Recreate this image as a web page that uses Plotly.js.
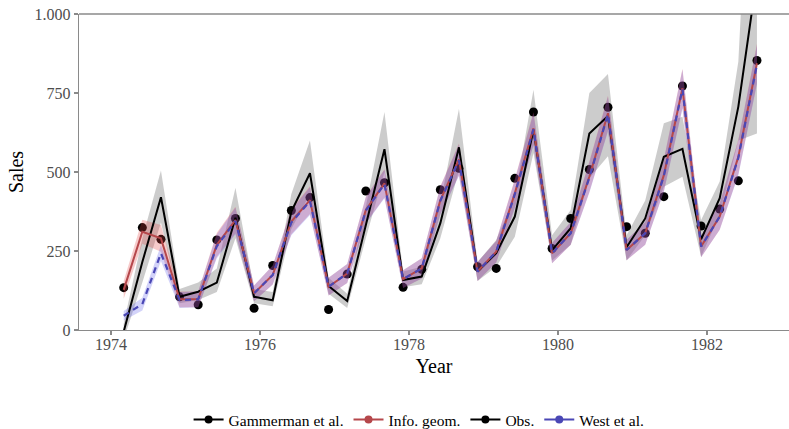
<!DOCTYPE html>
<html>
<head>
<meta charset="utf-8">
<script src="https://cdn.plot.ly/plotly-3.0.1.min.js"></script>
<style>html,body{margin:0;padding:0;background:#fff}#chart{width:789px;height:429px}</style>
</head>
<body>
<div id="chart"></div>
<script>
// Time (decimal years), quarterly
const years = [1974.17,1974.42,1974.67,1974.92,1975.17,1975.42,1975.67,1975.92,1976.17,1976.42,1976.67,1976.92,1977.17,1977.42,1977.67,1977.92,1978.17,1978.42,1978.67,1978.92,1979.17,1979.42,1979.67,1979.92,1980.17,1980.42,1980.67,1980.92,1981.17,1981.42,1981.67,1981.92,1982.17,1982.42,1982.67];

// Observed sales
const obs = [134,324,287,105,80,285,353,69,204,378,419,65,177,440,466,135,192,444,512,200,195,480,690,258,353,508,705,327,306,422,772,329,383,472,853];

// Gammerman et al. forecast and interval
const gammerman = [-5,215,420,105,121,150,355,105,94,375,496,139,92,335,572,158,169,338,578,185,243,359,633,253,322,622,677,262,353,548,573,287,417,707,1120];
const gammermanLo = [-30,150,340,85,95,120,290,85,75,320,430,115,70,290,500,135,145,290,505,155,200,295,560,220,270,480,550,220,300,453,485,232,365,600,622];
const gammermanHi = [20,290,505,130,150,195,450,130,120,430,600,165,115,390,690,185,200,400,700,215,285,422,760,300,380,750,810,300,410,654,675,348,470,850,2000];

// Information geometry forecast and half-width of interval
const infoGeom = [127,311,290,97,97,270,348,116,174,343,411,137,179,380,464,161,195,411,540,185,248,433,638,243,306,485,686,253,306,490,765,264,359,548,844];
const infoGeomErr = [28,38,42,25,25,38,42,25,30,40,44,28,30,42,45,28,32,44,50,30,34,45,52,32,36,48,55,32,36,50,62,34,42,55,62];

// West et al. forecast and half-width of interval
const west = [45,82,243,95,97,265,345,116,174,340,408,137,179,378,462,161,195,409,537,185,248,430,635,243,306,482,683,253,306,487,762,264,359,545,840];
const westErr = [15,20,25,25,25,38,42,25,30,40,44,28,30,42,45,28,32,44,50,30,34,45,52,32,36,48,55,32,36,50,62,34,42,55,62];

// Axis ticks
const xTicks = [1974,1976,1978,1980,1982];
const yTickVals = [0,250,500,750,1000];
const yTickText = ['0','250','500','750','1.000'];

const legendNames = ['Gammerman et al.','Info. geom.','Obs.','West et al.'];
const legendColors = ['#000000','#b5474b','#000000','#4a47b5'];

const RED = '#b5474b', BLUE = '#4a47b5';

function band(lo, hi, color) {
  return {
    x: years.concat(years.slice().reverse()),
    y: hi.concat(lo.slice().reverse()),
    type: 'scatter', mode: 'lines', fill: 'toself',
    fillcolor: color, line: {width: 0}, hoverinfo: 'skip', showlegend: false
  };
}

const igLo = infoGeom.map((v,i)=>v-infoGeomErr[i]);
const igHi = infoGeom.map((v,i)=>v+infoGeomErr[i]);
const wLo = west.map((v,i)=>v-westErr[i]);
const wHi = west.map((v,i)=>v+westErr[i]);

const traces = [
  {x: years, y: obs, type:'scatter', mode:'markers', marker:{color:'#000', size:9}, showlegend:false},
  band(gammermanLo, gammermanHi, 'rgba(0,0,0,0.2)'),
  band(igLo, igHi, 'rgba(225,70,70,0.28)'),
  band(wLo, wHi, 'rgba(80,80,230,0.25)'),
  {x: years, y: gammerman, type:'scatter', mode:'lines', line:{color:'#000', width:2}, showlegend:false},
  {x: years, y: infoGeom, type:'scatter', mode:'lines', line:{color:RED, width:2}, showlegend:false},
  {x: years, y: west, type:'scatter', mode:'lines', line:{color:BLUE, width:2.2, dash:'6px,5px'}, showlegend:false}
];

legendNames.forEach((n,i)=>{
  traces.push({x:[null], y:[null], type:'scatter', mode:'lines+markers', name:n,
    line:{color:legendColors[i], width:2}, marker:{color:legendColors[i], size:8}, showlegend:true});
});

const FONT = 'Liberation Serif, Times New Roman, serif';
const AX = '#8a8a8a';

const layout = {
  width: 789, height: 429,
  margin: {l:79, r:0, t:14, b:99},
  paper_bgcolor:'#fff', plot_bgcolor:'#fff',
  font: {family: FONT, color:'#000'},
  showlegend: true,
  legend: {orientation:'h', x:0.479, xanchor:'center', yref:'container', y:0.021, yanchor:'middle',
    font:{family:FONT, size:15.5, color:'#000'}, traceorder:'normal', itemwidth:30},
  xaxis: {range:[1973.57,1983.1], tickvals:xTicks, ticktext:xTicks.map(String),
    showgrid:false, zeroline:false, showline:true, linecolor:AX, linewidth:1.3,
    ticks:'outside', ticklen:4, tickcolor:AX, tickwidth:1.3, ticklabelstandoff:-5,
    tickfont:{family:FONT, size:16, color:'#4d4d4d'},
    title:{text:'Year', font:{family:FONT, size:20, color:'#000'}, standoff:7}},
  yaxis: {range:[0,1000], tickvals:yTickVals, ticktext:yTickText,
    showgrid:false, zeroline:false, showline:true, linecolor:AX, linewidth:1.3,
    ticks:'outside', ticklen:4, tickcolor:AX, tickwidth:1.3,
    tickfont:{family:FONT, size:16, color:'#4d4d4d'},
    title:{text:'Sales', font:{family:FONT, size:20, color:'#000'}, standoff:5}},
  shapes: [{type:'line', xref:'paper', yref:'paper', x0:0, x1:1, y0:1, y1:1, line:{color:AX, width:1.3}}]
};

Plotly.newPlot('chart', traces, layout, {displayModeBar:false, staticPlot:true});
</script>
</body>
</html>
